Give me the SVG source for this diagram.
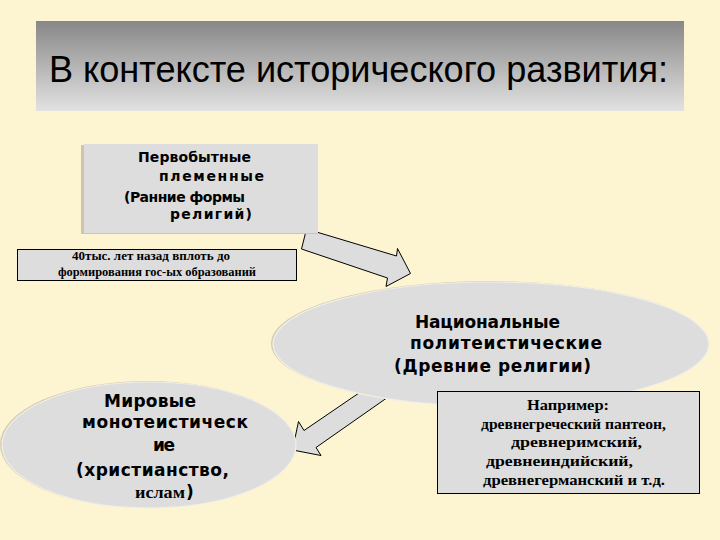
<svg xmlns="http://www.w3.org/2000/svg" width="720" height="540" viewBox="0 0 720 540">
<defs>
<linearGradient id="tg" x1="0" y1="0" x2="0" y2="1">
<stop offset="0" stop-color="#878787"/>
<stop offset="1" stop-color="#e2e2e2"/>
</linearGradient>
</defs>
<style>
.sans{font-family:"DejaVu Sans",Verdana,sans-serif;font-weight:bold;fill:#000}
.ser{font-family:"Liberation Serif","Times New Roman",serif;font-weight:bold;fill:#000}
.box{fill:#dddddd;stroke:#000;stroke-width:1}
.arrow{fill:#dddddd;stroke:#000;stroke-width:1;stroke-linejoin:miter}
.shadow{fill:#cdc6ad}
.eshadow{fill:#d3ccb4}
.ell{fill:#dddddd;stroke:#f2efe6;stroke-width:1.2}
</style>
<rect width="720" height="540" fill="#fdf4d2"/>
<g id="title">
<rect x="36" y="21" width="648" height="90" fill="url(#tg)"/>
<text x="49" y="82" font-family="'Liberation Sans',Arial,sans-serif" font-size="37" textLength="619" lengthAdjust="spacingAndGlyphs">В контексте исторического развития:</text>
</g>
<g id="connectors">
<polygon class="arrow" points="306.5,229 396.5,256 397.5,248.5 410.5,273.5 386,286.5 387.5,278 301.5,249"/>
<polygon class="arrow" points="378,380 391,395 316,447.5 321,455.5 292.5,450 298.5,421.5 304,430.5"/>
</g>
<g id="node-primitive">
<rect x="81" y="145" width="237" height="89" class="shadow"/>
<rect x="84" y="144" width="234" height="89" fill="#dddddd"/>
<text class="sans" font-size="14" x="138" y="162" textLength="113">Первобытные</text>
<text class="sans" font-size="14" x="159" y="181" textLength="105">племенные</text>
<text class="sans" font-size="14" x="124" y="202" textLength="121">(Ранние формы</text>
<text class="sans" font-size="14" x="170" y="219" textLength="82">религий)</text>
</g>
<g id="node-period">
<rect class="box" x="17.5" y="249.5" width="279" height="31"/>
<text class="ser" font-size="12" x="72" y="260" textLength="158" lengthAdjust="spacingAndGlyphs">40тыс. лет назад вплоть до</text>
<text class="ser" font-size="12" x="58" y="276" textLength="198" lengthAdjust="spacingAndGlyphs">формирования гос-ых образований</text>
</g>
<g id="node-national">
<ellipse class="eshadow" cx="489.5" cy="343.5" rx="218.5" ry="62.5"/>
<ellipse class="ell" cx="491" cy="344" rx="218" ry="62"/>
<text class="sans" font-size="17" x="415" y="328" textLength="145">Национальные</text>
<text class="sans" font-size="17" x="410" y="349" textLength="192">политеистические</text>
<text class="sans" font-size="17" x="394" y="372" textLength="197">(Древние религии)</text>
</g>
<g id="node-world">
<ellipse class="eshadow" cx="147.5" cy="444.5" rx="147.5" ry="63.5"/>
<ellipse class="ell" cx="149" cy="445" rx="147" ry="63"/>
<text class="sans" font-size="17" x="104" y="407" textLength="92">Мировые</text>
<text class="sans" font-size="17" x="82" y="428" textLength="166">монотеистическ</text>
<text class="sans" font-size="17" x="153" y="451" textLength="22">ие</text>
<text class="sans" font-size="17" x="76" y="476" textLength="153">(христианство,</text>
<text class="ser" font-size="17" x="135" y="498" textLength="50" lengthAdjust="spacingAndGlyphs">ислам</text>
<text class="sans" font-size="17" x="186" y="498">)</text>
</g>
<g id="node-examples">
<rect class="box" x="437.5" y="391.5" width="262" height="102"/>
<text class="ser" font-size="14" x="527" y="410" textLength="82" lengthAdjust="spacingAndGlyphs">Например:</text>
<text class="ser" font-size="14" x="481" y="429" textLength="185" lengthAdjust="spacingAndGlyphs">древнегреческий пантеон,</text>
<text class="ser" font-size="14" x="511" y="447" textLength="131" lengthAdjust="spacingAndGlyphs">древнеримский,</text>
<text class="ser" font-size="14" x="486" y="466" textLength="147" lengthAdjust="spacingAndGlyphs">древнеиндийский,</text>
<text class="ser" font-size="14" x="483" y="485" textLength="182" lengthAdjust="spacingAndGlyphs">древнегерманский и т.д.</text>
</g>
</svg>
